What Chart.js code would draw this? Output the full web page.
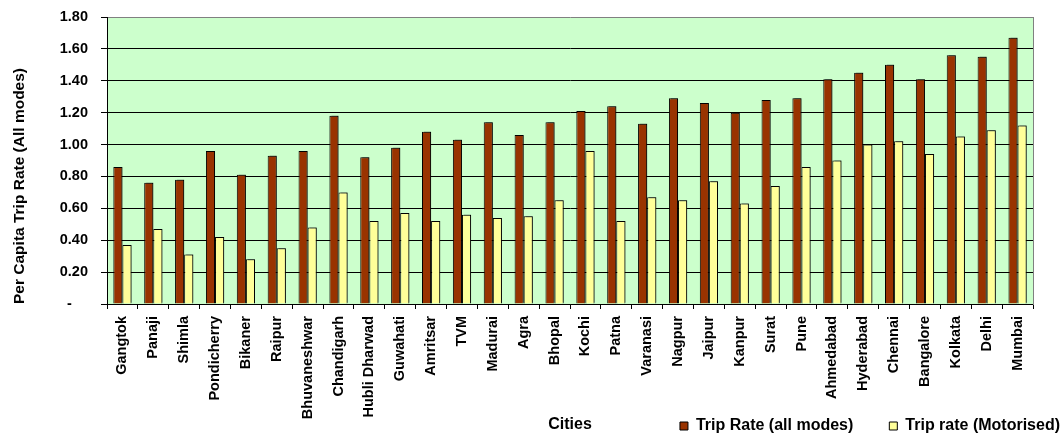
<!DOCTYPE html>
<html>
<head>
<meta charset="utf-8">
<script src="https://cdn.jsdelivr.net/npm/chart.js@4/dist/chart.umd.min.js"></script>
<style>
  html, body { margin: 0; padding: 0; background: #fff; }
  #wrap { width: 1064px; height: 435px; }
</style>
</head>
<body>
<div id="wrap"><canvas id="chart" width="1064" height="435"></canvas></div>
<script>
// Per capita trip rates by city
const cities = ['Gangtok', 'Panaji', 'Shimla', 'Pondicherry', 'Bikaner', 'Raipur', 'Bhuvaneshwar',
  'Chandigarh', 'Hubli Dharwad', 'Guwahati', 'Amritsar', 'TVM', 'Madurai', 'Agra', 'Bhopal',
  'Kochi', 'Patna', 'Varanasi', 'Nagpur', 'Jaipur', 'Kanpur', 'Surat', 'Pune', 'Ahmedabad',
  'Hyderabad', 'Chennai', 'Bangalore', 'Kolkata', 'Delhi', 'Mumbai'];

const tripRateAllModes = [0.86, 0.76, 0.78, 0.96, 0.81, 0.93, 0.96, 1.18, 0.92, 0.98,
  1.08, 1.03, 1.14, 1.06, 1.14, 1.21, 1.24, 1.13, 1.29, 1.26,
  1.20, 1.28, 1.29, 1.41, 1.45, 1.50, 1.41, 1.56, 1.55, 1.67];

const tripRateMotorised = [0.37, 0.47, 0.31, 0.42, 0.28, 0.35, 0.48, 0.70, 0.52, 0.57,
  0.52, 0.56, 0.54, 0.55, 0.65, 0.96, 0.52, 0.67, 0.65, 0.77,
  0.63, 0.74, 0.86, 0.90, 1.00, 1.02, 0.94, 1.05, 1.09, 1.12];

const seriesNames = ['Trip Rate (all modes)', 'Trip rate (Motorised)'];
const yAxisTitle = 'Per Capita Trip Rate (All modes)';
const xAxisTitle = 'Cities';
const yMin = 0, yMax = 1.8, yStep = 0.2;

const FONT = "'Liberation Sans', Arial, sans-serif";

// white page, green plot area
const backgroundPlugin = {
  id: 'plotBackground',
  beforeDraw(chart) {
    const { ctx, chartArea: a } = chart;
    ctx.save();
    ctx.fillStyle = '#ffffff';
    ctx.fillRect(0, 0, chart.width, chart.height);
    ctx.fillStyle = '#CCFFCC';
    ctx.fillRect(a.left, a.top, a.right - a.left, a.bottom - a.top);
    ctx.restore();
  }
};

// soft drop shadow behind the bars
const barShadowPlugin = {
  id: 'barShadow',
  beforeDatasetsDraw(chart) {
    const ctx = chart.ctx;
    ctx.save();
    ctx.shadowColor = 'rgba(0,0,0,0.45)';
    ctx.shadowOffsetX = 2;
    ctx.shadowOffsetY = -1;
    ctx.shadowBlur = 0;
  },
  afterDatasetsDraw(chart) {
    chart.ctx.restore();
  }
};

// the legend shares its row with the x-axis title, beside the long city labels
const LEGEND_ROW_HEIGHT = 21;
const legendRowPlugin = {
  id: 'legendRow',
  afterLayout(chart) {
    const lg = chart.legend;
    if (lg) {
      lg.top = lg.bottom - LEGEND_ROW_HEIGHT;
      lg.height = LEGEND_ROW_HEIGHT;
    }
  }
};

new Chart(document.getElementById('chart'), {
  type: 'bar',
  data: {
    labels: cities,
    datasets: [
      {
        label: seriesNames[0],
        data: tripRateAllModes,
        backgroundColor: '#993300',
        borderColor: '#000000',
        borderWidth: 1,
        categoryPercentage: 0.59,
        barPercentage: 1.0
      },
      {
        label: seriesNames[1],
        data: tripRateMotorised,
        backgroundColor: '#FFFF99',
        borderColor: '#000000',
        borderWidth: 1,
        categoryPercentage: 0.59,
        barPercentage: 1.0
      }
    ]
  },
  options: {
    responsive: false,
    animation: false,
    devicePixelRatio: 1,
    layout: { padding: { left: 0, right: 0, top: 17, bottom: 0 } },
    plugins: {
      tooltip: { enabled: false },
      legend: {
        position: 'bottom',
        align: 'end',
        maxHeight: 12,
        labels: {
          color: '#000',
          font: { family: FONT, size: 16, weight: 'bold' },
          boxWidth: 8,
          boxHeight: 8,
          padding: 4,
          generateLabels(chart) {
            const items = Chart.defaults.plugins.legend.labels.generateLabels(chart);
            items.forEach((it, i) => {
              if (i < items.length - 1) it.text = it.text + '\u2003\u2003';
            });
            return items;
          }
        }
      }
    },
    scales: {
      x: {
        offset: true,
        grid: {
          offset: true,
          drawOnChartArea: false,
          drawTicks: true,
          tickLength: 5,
          color: '#000',
          tickColor: '#000'
        },
        border: { color: '#000', width: 1 },
        ticks: {
          autoSkip: false,
          maxRotation: 90,
          minRotation: 90,
          padding: 7,
          color: '#000',
          font: { family: FONT, size: 14.5, weight: 'bold' }
        },
        title: {
          display: true,
          text: xAxisTitle,
          color: '#000',
          font: { family: FONT, size: 16, weight: 'bold' },
          padding: { top: 0, bottom: -11.6 }
        },
        afterFit(scale) { scale.height = 119; }
      },
      y: {
        min: yMin,
        max: yMax,
        grid: {
          color: (c) => (c.tick && Math.abs(c.tick.value - yMax) < 1e-6) ? '#808080' : '#000',
          tickColor: '#000',
          tickLength: 6,
          lineWidth: 1
        },
        border: { color: '#000', width: 1 },
        ticks: {
          stepSize: yStep,
          padding: 13,
          color: '#000',
          font: { family: FONT, size: 14.5, weight: 'bold' },
          callback: (v) => Math.abs(v) < 1e-9 ? '-    ' : Number(v).toFixed(2)
        },
        title: {
          display: true,
          text: yAxisTitle,
          align: 'start',
          color: '#000',
          font: { family: FONT, size: 15.5, weight: 'bold' },
          padding: { top: 10, bottom: 0 }
        },
        afterFit(scale) {
          scale.width = 107;
          scale.paddingTop = 9;
          scale.paddingBottom = 9;
        }
      },
      yRight: {
        position: 'right',
        min: yMin,
        max: yMax,
        ticks: { display: false },
        grid: { drawOnChartArea: false, drawTicks: false },
        border: { color: '#808080', width: 1 },
        afterFit(scale) { scale.width = 31; }
      }
    }
  },
  plugins: [backgroundPlugin, barShadowPlugin, legendRowPlugin]
});
</script>
</body>
</html>
